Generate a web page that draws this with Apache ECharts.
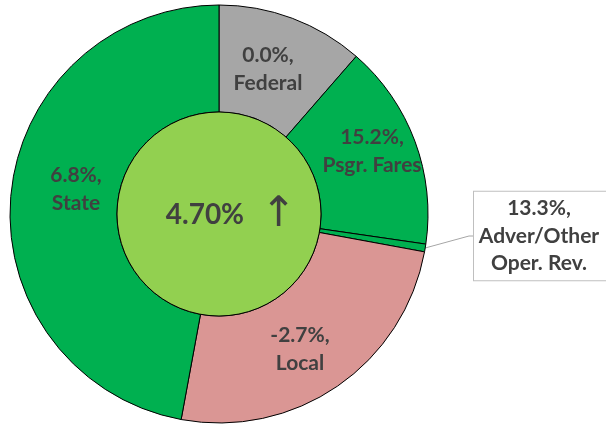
<!DOCTYPE html>
<html><head><meta charset="utf-8">
<script src="https://cdn.jsdelivr.net/npm/echarts@6/dist/echarts.min.js"></script>
<style>html,body{margin:0;padding:0;background:#fff}#c{width:606px;height:427px}</style>
</head><body><div id="c"></div>
<script>
const categories = ['Federal', 'Psgr. Fares', 'Adver/Other\nOper. Rev.', 'Local', 'State'];
const shares = [11.4, 15.9, 0.6, 25.0, 47.1];
const changes = ['0.0%', '15.2%', '13.3%', '-2.7%', '6.8%'];
const colors = ['#A6A6A6', '#00B050', '#00B050', '#DA9694', '#00B050'];
const totalChange = '4.70%';

const chart = echarts.init(document.getElementById('c'), null, {renderer: 'canvas'});
const font = 'Lato, "Open Sans", sans-serif';
// label anchor points (layout only)
const labelPos = [[268, 69], [372, 151], [559, 236], [300, 349], [76, 189]];
const data = categories.map((c, i) => ({
  name: c, value: shares[i],
  itemStyle: {color: colors[i]},
  label: i === 2 ? {
    position: 'outside', backgroundColor: '#fff', borderColor: '#BFBFBF', borderWidth: 1,
    width: 130, padding: [6, 40, 0, 0], lineHeight: 27.5, align: 'center', overflow: 'none'
  } : {position: 'inside'},
  labelLine: i === 2 ? {show: true, length: 20, length2: 4, lineStyle: {color: '#A6A6A6', width: 1}} : {show: false}
}));
chart.setOption({
  animation: false,
  series: [
    {
      type: 'pie', center: [219, 214], radius: [0, 102], silent: true,
      data: [{value: 1, name: 'total', itemStyle: {color: '#92D050', borderColor: '#000', borderWidth: 1}}],
      label: {
        position: 'center', formatter: '{a|' + totalChange + '}{s|}{b|\u2191}',
        rich: {
          a: {fontFamily: font, fontWeight: 'bold', fontSize: 28, color: '#404040'},
          s: {width: 17},
          b: {fontFamily: '"DejaVu Sans", sans-serif', fontWeight: 'normal', fontSize: 42, color: '#404040'}
        }
      },
      labelLayout: function () { return {x: 231, y: 215, align: 'center', verticalAlign: 'middle'}; },
      labelLine: {show: false}, z: 3
    },
    {
      type: 'pie', center: [219, 214], radius: [102, 209], startAngle: 90, clockwise: true,
      avoidLabelOverlap: false,
      itemStyle: {borderColor: '#000', borderWidth: 1},
      label: {
        formatter: p => changes[p.dataIndex] + ',\n' + p.name,
        fontFamily: font, fontWeight: 'bold', fontSize: 21, color: '#404040', lineHeight: 27.5, align: 'center'
      },
      labelLayout: function (p) {
        const q = labelPos[p.dataIndex];
        return {x: q[0], y: q[1], align: 'center', verticalAlign: 'middle'};
      },
      data: data
    }
  ]
});
</script></body></html>
